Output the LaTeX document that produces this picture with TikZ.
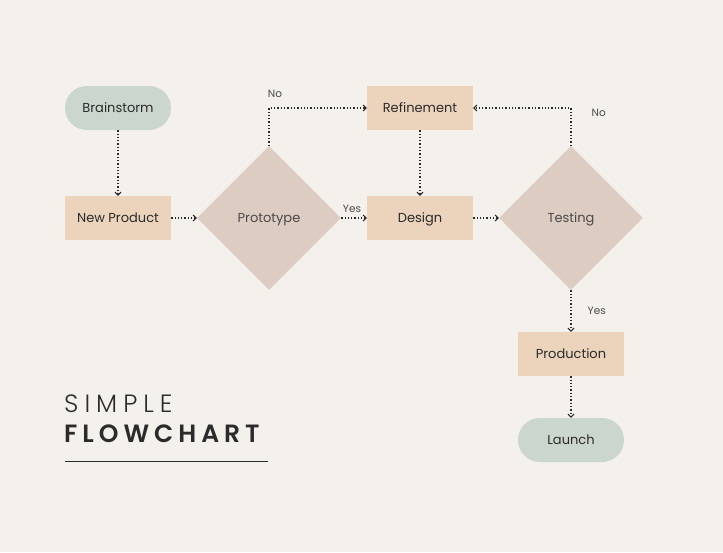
\documentclass[tikz,border=0pt]{standalone}
\usepackage{fontspec}
\setmainfont{Poppins}
\newfontfamily\simplefont[LetterSpace=24]{Poppins Light}
\newfontfamily\flowfont[LetterSpace=20]{Poppins SemiBold}
\usetikzlibrary{shapes.geometric,arrows.meta}
\definecolor{paper}{HTML}{F4F0EC}
\definecolor{peach}{HTML}{EBD3BC}
\definecolor{mauve}{HTML}{DDCCC2}
\definecolor{sage}{HTML}{CBD6CD}
\definecolor{ink}{HTML}{2B2B2B}
\definecolor{greyink}{HTML}{4A4A4A}

\begin{document}
\begin{tikzpicture}[x=1pt,y=-1pt,
   every node/.style={text=ink,font=\fontsize{13}{15}\selectfont},
   stepbox/.style={fill=peach,minimum width=106pt,minimum height=44pt,inner sep=0pt,text depth=0pt},
   terminal/.style={fill=sage,rounded corners=22pt,minimum width=106pt,minimum height=44pt,inner sep=0pt,text depth=0pt},
   decision/.style={diamond,fill=mauve,text=greyink,minimum width=144pt,minimum height=144pt,inner sep=0pt,aspect=1,text depth=0pt},
   flow/.style={draw=ink,line width=1.3pt,dotted,-{Straight Barb[length=3pt,width=6pt,line width=1pt]}},
   answer/.style={text=greyink,font=\fontsize{10.5}{12}\selectfont,inner sep=1pt}]
\fill[paper] (0,0) rectangle (723,552);
\useasboundingbox (0,0) rectangle (723,552);

\node[terminal] (brainstorm) at (118,108) {Brainstorm};
\node[stepbox] (newproduct) at (118,218) {New Product};
\node[decision] (prototype) at (269,218) {Prototype};
\node[stepbox] (refinement) at (420,108) {Refinement};
\node[stepbox] (design) at (420,218) {Design};
\node[decision] (testing) at (571,218) {Testing};
\node[stepbox] (production) at (571,354) {Production};
\node[terminal] (launch) at (571,440) {Launch};

\draw[flow] (brainstorm) -- (newproduct);
\draw[flow] (newproduct) -- (prototype);
\draw[flow] (prototype.north) |- (refinement.west) node[answer,pos=0.5,above=9pt,xshift=6pt] {No};
\draw[flow] (prototype) -- (design) node[answer,midway,above=4pt,xshift=-2pt] {Yes};
\draw[flow] (refinement) -- (design);
\draw[flow] (design) -- (testing);
\draw[flow] (testing.north) |- (refinement.east) node[answer,pos=0.5,right=19pt,yshift=-5pt] {No};
\draw[flow] (testing) -- (production) node[answer,midway,right=15pt] {Yes};
\draw[flow] (production) -- (launch);

% title
\node[anchor=base west,inner sep=0pt,font=\simplefont\fontsize{25}{29}\selectfont] (simple) at (64,412) {SIMPLE};
\node[anchor=base west,inner sep=0pt,font=\flowfont\fontsize{25}{29}\selectfont] (flowchart) at (64,442) {FLOWCHART};
\draw[ink,line width=1pt] (65,461) -- (268,461);
\end{tikzpicture}
\end{document}
